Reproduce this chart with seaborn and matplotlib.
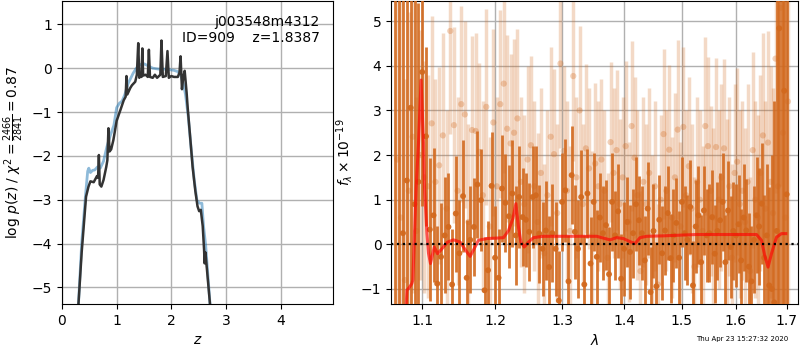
import numpy as np
import pandas as pd
import matplotlib
matplotlib.use("Agg")
import matplotlib.pyplot as plt
import seaborn as sns
from matplotlib.ticker import NullLocator, FixedLocator, FixedFormatter

# ---------------- data: p(z) ----------------
z_pz = [0.25, 0.30, 0.36, 0.44, 0.485, 0.52, 0.58, 0.64, 0.66, 0.675, 0.69, 0.72, 0.76, 0.81, 0.83,
        0.85, 0.87, 0.90, 0.94, 1.00, 1.07, 1.13, 1.165, 1.18, 1.195, 1.25, 1.28, 1.34, 1.37, 1.395,
        1.415, 1.435, 1.455, 1.47, 1.485, 1.53, 1.57, 1.59, 1.61, 1.66, 1.70, 1.74, 1.80, 1.82, 1.845,
        1.90, 1.93, 1.955, 2.00, 2.05, 2.12, 2.15, 2.17, 2.195, 2.22, 2.245, 2.28, 2.30, 2.36, 2.39,
        2.44, 2.48, 2.51, 2.54, 2.575, 2.60, 2.61, 2.625, 2.71, 2.78]
logp_pz = [-7.0, -5.4, -4.2, -2.93, -2.7, -2.58, -2.6, -2.46, -2.5, -1.98, -2.65, -2.70, -2.55, -2.25, -2.1,
           -1.37, -1.9, -1.85, -1.64, -1.2, -0.95, -0.73, -0.65, -0.18, -0.6, -0.45, -0.39, -0.31, -0.15, 0.57,
           -0.22, -0.12, -0.2, 0.45, -0.17, -0.15, -0.2, 0.42, -0.2, -0.22, -0.15, -0.22, -0.15, 0.63, -0.2,
           -0.18, 0.39, -0.22, -0.18, -0.2, -0.2, -0.1, 0.27, -0.48, -0.2, -0.06, -0.55, -0.9, -1.79, -2.25,
           -2.8, -3.15, -3.26, -3.23, -3.6, -4.14, -4.45, -4.2, -5.4, -7.0]

z_prior = [0.25, 0.30, 0.36, 0.43, 0.47, 0.49, 0.52, 0.56, 0.60, 0.65, 0.70, 0.76, 0.82, 0.88, 0.95,
           1.00, 1.05, 1.10, 1.15, 1.21, 1.30, 1.36, 1.42, 1.50, 1.58, 1.66, 1.76, 1.84, 1.95, 2.05,
           2.12, 2.17, 2.22, 2.26, 2.31, 2.36, 2.42, 2.47, 2.52, 2.56, 2.59, 2.63, 2.71, 2.78]
logp_prior = [-7.0, -5.4, -4.0, -2.9, -2.35, -2.28, -2.38, -2.33, -2.32, -2.25, -2.28, -2.12, -1.8, -1.55, -1.3,
              -0.9, -0.8, -0.75, -0.6, -0.35, -0.12, 0.0, 0.08, 0.1, 0.05, 0.0, -0.02, -0.02, -0.03, -0.05,
              -0.08, -0.15, -0.35, -0.6, -1.1, -1.79, -2.55, -3.02, -3.08, -3.08, -3.6, -4.05, -5.4, -7.0]

# ---------------- data: spectrum ----------------
lam_dark = [1.065, 1.070, 1.075, 1.080, 1.085, 1.090, 1.095, 1.100, 1.105, 1.110,
            1.115, 1.120, 1.125, 1.130, 1.135, 1.140, 1.145, 1.150, 1.155, 1.160,
            1.165, 1.170, 1.175, 1.180, 1.185, 1.190, 1.195, 1.200, 1.205, 1.210,
            1.215, 1.220, 1.225, 1.230, 1.235, 1.240, 1.245, 1.250, 1.255, 1.260,
            1.265, 1.270, 1.275, 1.280, 1.285, 1.290, 1.295, 1.300, 1.305, 1.310,
            1.315, 1.320, 1.325, 1.330, 1.335, 1.340, 1.345, 1.350, 1.355, 1.360,
            1.365, 1.370, 1.375, 1.380, 1.385, 1.390, 1.395, 1.400, 1.405, 1.410,
            1.415, 1.420, 1.425, 1.430, 1.435, 1.440, 1.445, 1.450, 1.455, 1.460,
            1.465, 1.470, 1.475, 1.480, 1.485, 1.490, 1.495, 1.500, 1.505, 1.510,
            1.515, 1.520, 1.525, 1.530, 1.535, 1.540, 1.545, 1.550, 1.555, 1.560,
            1.565, 1.570, 1.575, 1.580, 1.585, 1.590, 1.595, 1.600, 1.605, 1.610,
            1.615, 1.620, 1.625, 1.630, 1.635, 1.640, 1.645, 1.650, 1.655, 1.660,
            1.665, 1.670, 1.675, 1.680, 1.685, 1.690, 1.695, 1.700]
flux_dark = [-2.5, -1.8, 0.25, 1.43, 3.06, 0.9, 1.40, 3.86, 2.42, 0.33,
             0.65, -0.88, -0.28, 0.2, 0.39, -0.9, 0.69, -0.2, 1.08, -0.75,
             0.1, 0.39, 1.34, 0.99, -1.03, -0.58, 1.31, -0.3, -0.75, 1.25,
             0.93, 0.63, 1.14, 0.2, 1.06, 0.61, 0.55, 0.28, 1.06, 1.1,
             0.24, -0.1, 0.31, -0.51, 0.25, -0.1, -1.26, 0.95, 1.21, -0.83,
             1.55, 0.28, -0.1, 1.06, -0.9, 1.14, -0.43, 0.95, -0.28, 0.6,
             0.25, 0.43, -0.67, 0.95, 0.2, 0.74, -0.77, -0.1, 0.5, -0.17,
             0.25, 0.9, 0.54, 0.25, -0.36, 0.8, -1.07, 0.3, -0.94, 0.55,
             -0.2, 0.31, 0.7, -0.31, 0.2, 0.48, -0.3, 0.95, 0.25, 0.1,
             0.84, -0.92, 0.4, 0.65, -0.4, 0.76, 0.2, 0.25, 0.61, -0.21,
             0.3, 0.54, 0.95, -0.4, 0.76, -0.06, 0.3, 0.2, 0.45, -0.36,
             0.6, 0.31, -0.5, -0.83, 0.1, 0.65, 0.4, 0.91, -0.3, 0.2,
             -0.92, -1.0, -1.3, 0.3, 4.84, -2.0, 3.44, 1.12]
err_dark = [9, 9, 8, 7, 6, 5, 4, 3, 2.0, 1.6,
            1.5, 1.3, 1.2, 1.3, 1.2, 1.25, 1.3, 1.2, 1.25, 1.3,
            1.2, 1.1, 1.2, 1.15, 1.2, 1.1, 1.2, 1.15, 1.1, 1.2,
            1.1, 1.15, 1.2, 1.1, 1.15, 1.1, 1.05, 1.1, 1.15, 1.1,
            1.1, 1.05, 1.1, 1.15, 1.1, 1.05, 1.1, 1.1, 1.15, 1.05,
            1.1, 1.05, 1.1, 1.05, 1.1, 1.0, 1.05, 1.1, 1.05, 1.0,
            1.05, 1.0, 1.05, 1.1, 1.0, 1.05, 1.0, 1.05, 1.0, 1.05,
            1.0, 1.05, 1.0, 1.05, 1.0, 1.05, 1.0, 1.05, 1.0, 1.0,
            1.05, 1.0, 1.05, 1.0, 1.05, 1.0, 1.05, 1.0, 1.05, 1.0,
            1.05, 1.0, 1.05, 1.1, 1.05, 1.0, 1.05, 1.1, 1.05, 1.1,
            1.1, 1.05, 1.1, 1.05, 1.1, 1.15, 1.1, 1.15, 1.1, 1.15,
            1.2, 1.15, 1.2, 1.25, 1.2, 1.3, 1.3, 1.35, 1.4, 1.6,
            2.2, 3.0, 4.5, 6, 7, 8, 9, 9]

lam_light = [1.0675, 1.0725, 1.0775, 1.0825, 1.0875, 1.0925, 1.0975, 1.1025, 1.1075, 1.1125,
             1.1175, 1.1225, 1.1275, 1.1325, 1.1375, 1.1425, 1.1475, 1.1525, 1.1575, 1.1625,
             1.1675, 1.1725, 1.1775, 1.1825, 1.1875, 1.1925, 1.1975, 1.2025, 1.2075, 1.2125,
             1.2175, 1.2225, 1.2275, 1.2325, 1.2375, 1.2425, 1.2475, 1.2525, 1.2575, 1.2625,
             1.2675, 1.2725, 1.2775, 1.2825, 1.2875, 1.2925, 1.2975, 1.3025, 1.3075, 1.3125,
             1.3175, 1.3225, 1.3275, 1.3325, 1.3375, 1.3425, 1.3475, 1.3525, 1.3575, 1.3625,
             1.3675, 1.3725, 1.3775, 1.3825, 1.3875, 1.3925, 1.3975, 1.4025, 1.4075, 1.4125,
             1.4175, 1.4225, 1.4275, 1.4325, 1.4375, 1.4425, 1.4475, 1.4525, 1.4575, 1.4625,
             1.4675, 1.4725, 1.4775, 1.4825, 1.4875, 1.4925, 1.4975, 1.5025, 1.5075, 1.5125,
             1.5175, 1.5225, 1.5275, 1.5325, 1.5375, 1.5425, 1.5475, 1.5525, 1.5575, 1.5625,
             1.5675, 1.5725, 1.5775, 1.5825, 1.5875, 1.5925, 1.5975, 1.6025, 1.6075, 1.6125,
             1.6175, 1.6225, 1.6275, 1.6325, 1.6375, 1.6425, 1.6475, 1.6525, 1.6575, 1.6625,
             1.6675, 1.6725, 1.6775, 1.6825, 1.6875, 1.6925, 1.6975, 1.7025]
flux_light = [1.9, 0.6, -0.8, 1.2, 2.41, 0.3, 2.0, 1.5, 1.3, 2.71,
              1.4, 1.77, 2.44, 0.8, 4.78, 2.67, 1.2, 3.14, 2.91, 0.5,
              2.56, 2.54, 2.07, 1.1, 3.08, 0.4, 2.73, 1.3, 3.14, 3.6,
              2.59, 2.26, 2.5, 2.82, 1.4, 0.9, 1.9, 2.22, 1.3, 0.5,
              1.6, -0.2, 1.1, 2.41, 2.02, 0.7, 4.05, 2.09, 1.2, 0.3,
              3.77, 1.5, 3.0, 0.9, 2.15, 1.7, 0.2, 1.81, 1.3, 1.9,
              1.2, -0.3, 2.29, 1.6, 2.11, 0.9, 1.5, 2.2, 0.5, 2.65,
              1.94, 1.1, -0.6, 1.4, 0.9, 1.6, 0.2, 1.3, -0.9, 1.0,
              2.47, 1.2, 2.12, 0.6, 1.5, 2.57, 0.4, 2.63, 1.1, 1.75,
              0.8, -0.5, 1.4, 1.0, 0.3, 2.65, 2.2, 1.2, 0.6, 2.18,
              1.0, 1.5, 2.15, 0.7, 1.3, -0.3, 1.6, 1.85, 0.9, 1.2,
              0.5, 1.4, -0.6, 2.11, 1.0, 0.6, 1.6, 2.44, 0.8, 2.28,
              1.4, 0.7, 4.16, 1.3, 5.3, 2.5, 0.6, 3.2]
err_light = [6, 5, 4.5, 4, 3.5, 3, 2.8, 2.6, 2.5, 2.4,
             2.3, 2.2, 2.3, 2.2, 2.3, 2.2, 2.1, 2.2, 2.1, 2.2,
             2.1, 2.2, 2.0, 2.1, 2.2, 2.0, 2.1, 2.0, 2.1, 2.0,
             2.1, 2.0, 2.1, 2.0, 1.9, 2.0, 2.1, 2.0, 1.9, 2.0,
             1.9, 2.0, 1.9, 2.0, 1.9, 2.0, 1.9, 1.9, 2.0, 1.9,
             1.9, 1.8, 1.9, 1.8, 1.9, 1.8, 1.9, 1.8, 1.9, 1.8,
             1.8, 1.9, 1.8, 1.9, 1.8, 1.9, 1.8, 1.9, 1.8, 1.9,
             1.8, 1.9, 1.8, 1.9, 1.8, 1.9, 1.8, 1.9, 1.8, 1.9,
             1.9, 1.8, 1.9, 1.8, 1.9, 2.0, 1.9, 1.8, 1.9, 2.0,
             1.9, 2.0, 1.9, 2.0, 1.9, 2.0, 2.0, 1.9, 2.0, 2.0,
             2.0, 2.1, 2.0, 2.1, 2.0, 2.1, 2.0, 2.1, 2.1, 2.0,
             2.1, 2.2, 2.1, 2.2, 2.2, 2.3, 2.2, 2.3, 2.4, 2.5,
             2.6, 2.8, 3.0, 3.5, 4, 5, 6, 7]

lam_model = [1.070, 1.0792, 1.0801, 1.0834, 1.0865, 1.0878, 1.0921, 1.0951, 1.0985, 1.1017, 1.1030,
             1.1062, 1.1083, 1.1109, 1.1159, 1.1203, 1.1262, 1.1337, 1.1419, 1.1511, 1.1580,
             1.1648, 1.1704, 1.1764, 1.1883, 1.2027, 1.2122, 1.2195, 1.2259, 1.2302, 1.2340,
             1.2376, 1.2425, 1.2489, 1.2563, 1.2713, 1.3550, 1.3657, 1.3766, 1.3876, 1.3986,
             1.4099, 1.4184, 1.4269, 1.4384, 1.4671, 1.5258, 1.5887, 1.6398, 1.6496, 1.6561,
             1.6626, 1.6694, 1.6795, 1.6895, 1.6982]
flux_model = [-2.5, -1.35, -1.03, -0.96, -0.88, -0.8, 1.28, 2.26, 3.68, 2.26, 1.28,
              0.24, -0.2, -0.43, -0.06, -0.21, -0.1, 0.05, 0.1, 0.05, -0.12,
              -0.27, -0.1, 0.09, 0.13, 0.14, 0.15, 0.31, 0.58, 0.91, 0.39,
              0.05, -0.06, 0.05, 0.15, 0.18, 0.18, 0.14, 0.1, 0.15, 0.13,
              0.06, 0.02, 0.15, 0.18, 0.19, 0.22, 0.22, 0.22, 0.09, -0.25,
              -0.51, -0.21, 0.16, 0.24, 0.24]

xticks_lam = [1.1, 1.2, 1.3, 1.4, 1.5, 1.6, 1.7]
xtick_labels_lam = ['1.1', '1.2', '1.3', '1.4', '1.5', '1.6', '1.7']

title_text = "j003548m4312\nID=909    z=1.8387"
stamp_text = "Thu Apr 23 15:27:32 2020"

# ---------------- figure ----------------
plt.rcParams['font.family'] = ['DejaVu Sans']
fig = plt.figure(figsize=(8, 3.5), dpi=100)
ax1 = fig.add_axes([0.0775, 0.131, 0.3388, 0.866])
ax2 = fig.add_axes([0.489, 0.131, 0.509, 0.866])

# left panel
df_pz = pd.DataFrame({'z': z_pz, 'logp': logp_pz})
df_pr = pd.DataFrame({'z': z_prior, 'logp': logp_prior})
sns.lineplot(data=df_pr, x='z', y='logp', ax=ax1, color='#1f77b4', alpha=0.5, lw=2, estimator=None, sort=False)
sns.lineplot(data=df_pz, x='z', y='logp', ax=ax1, color='0.2', lw=1.8, estimator=None, sort=False)
ax1.set_xlim(0, 4.96)
ax1.set_ylim(-5.38, 1.53)
ax1.set_xticks([0, 1, 2, 3, 4])
ax1.set_yticks([-5, -4, -3, -2, -1, 0, 1])
ax1.grid(True, color='#b0b0b0', lw=1)
ax1.set_axisbelow(True)
ax1.set_xlabel('$z$')
ax1.set_ylabel(r'log $p(z)$ / $\chi^2=\frac{2466}{2841}=0.87$')
ax1.text(0.95, 0.955, title_text, ha='right', va='top', transform=ax1.transAxes, fontsize=10)

# right panel
col = '#d2691e'
ax2.errorbar(lam_light, flux_light, yerr=err_light, fmt='none', ecolor=col, alpha=0.25, elinewidth=2.5, zorder=2)
sns.scatterplot(x=lam_light, y=flux_light, ax=ax2, color=col, alpha=0.3, s=20, edgecolor='none', zorder=3)
ax2.errorbar(lam_dark, flux_dark, yerr=err_dark, fmt='none', ecolor=col, alpha=0.9, elinewidth=2.0, zorder=4)
sns.scatterplot(x=lam_dark, y=flux_dark, ax=ax2, color=col, alpha=0.95, s=18, edgecolor='none', zorder=5)
df_m = pd.DataFrame({'lam': lam_model, 'flux': flux_model})
sns.lineplot(data=df_m, x='lam', y='flux', ax=ax2, color='red', alpha=0.65, lw=2.2, estimator=None, sort=False, zorder=6)
ax2.axhline(0, color='k', ls=':', lw=1.6, zorder=7)
ax2.set_xscale('log')
ax2.set_xlim(1.06, 1.724)
ax2.set_ylim(-1.34, 5.45)
ax2.xaxis.set_major_locator(FixedLocator(xticks_lam))
ax2.xaxis.set_major_formatter(FixedFormatter(xtick_labels_lam))
ax2.xaxis.set_minor_locator(NullLocator())
ax2.set_yticks([-1, 0, 1, 2, 3, 4, 5])
ax2.grid(True, color='#b0b0b0', lw=1)
ax2.set_axisbelow(True)
ax2.set_xlabel(r'$\lambda$')
ax2.set_ylabel(r'$f_\lambda\times 10^{-19}$')

fig.text(0.985, 0.022, stamp_text, ha='right', va='bottom', fontsize=5)

fig.savefig('out.png', dpi=100)
